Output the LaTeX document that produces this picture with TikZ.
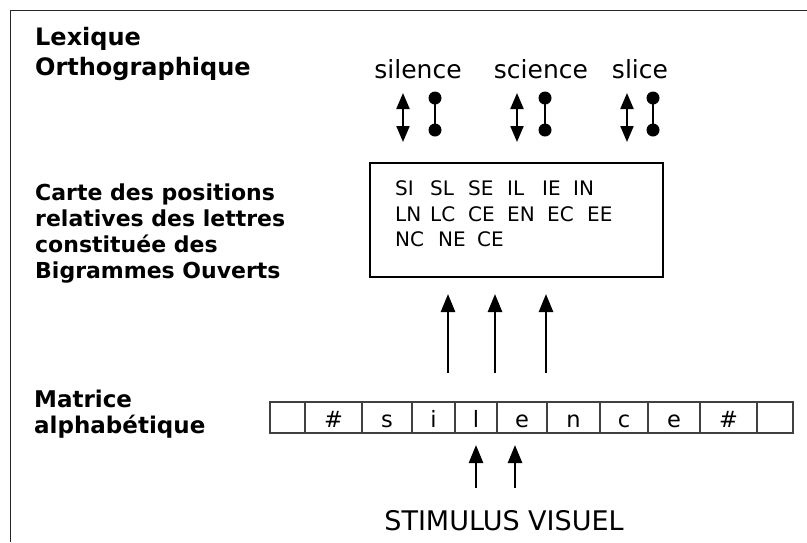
\documentclass[tikz,border=0pt]{standalone}
\usepackage{fontspec}
\setmainfont{DejaVu Sans}
\usetikzlibrary{arrows.meta}
\begin{document}
\begin{tikzpicture}[x=1pt,y=-1pt,
  lbl/.style={anchor=base west, inner sep=0pt, font=\bfseries\fontsize{#1}{#1}\selectfont},
  word/.style={anchor=base, inner sep=0pt, font=\fontsize{25}{25}\selectfont},
  bg/.style={anchor=base west, inner sep=0pt, font=\fontsize{20}{20}\selectfont},
  cell/.style={draw=black!75, line width=1.3pt, inner sep=0pt, minimum height=31pt,
    text height=19pt, text depth=0pt, font=\fontsize{22.5}{22.5}\selectfont},
  uparr/.style={line width=2.6pt, -{Triangle[length=18pt,width=14pt]}},
  dbl/.style={line width=2.2pt, {Triangle[length=16pt,width=13pt]}-{Triangle[length=16pt,width=13pt]}},
  dot/.style={circle, fill, inner sep=0pt, minimum size=13pt},
  mapbox/.style={draw, line width=2pt, inner sep=0pt, minimum width=293pt, minimum height=114pt}]
\useasboundingbox (0,0) rectangle (807,542);
\fill[white] (0,0) rectangle (807,542);
% frame
\draw[line width=1.5pt, black!85] (10.5,542) -- (10.5,10.5) -- (807,10.5);

% left labels
\node[lbl=24] (lex1) at (35,45) {Lexique};
\node[lbl=24] (lex2) at (35,75) {Orthographique};
\node[lbl=22] (car1) at (35,200) {Carte des positions};
\node[lbl=22] (car2) at (35,226) {relatives des lettres};
\node[lbl=22] (car3) at (35,252) {constituée des};
\node[lbl=22] (car4) at (35,278) {Bigrammes Ouverts};
\node[lbl=23] (mat1) at (34,407) {Matrice};
\node[lbl=23] (mat2) at (34,433) {alphabétique};

% words
\node[word] (w1) at (418,78) {silence};
\node[word] (w2) at (541,78) {science};
\node[word] (w3) at (640,78) {slice};

% double arrows and dumbbells
\foreach \ax/\dx [count=\i] in {403/435, 517/545, 627/653} {
  \coordinate (at\i) at (\ax,93);
  \coordinate (ab\i) at (\ax,142);
  \draw[dbl] (at\i) -- (ab\i);
  \node[dot] (dt\i) at (\dx,98) {};
  \node[dot] (db\i) at (\dx,130) {};
  \draw[line width=2.6pt] (dt\i.center) -- (db\i.center);
}

% bigram map
\node[mapbox] (map) at (516.5,220) {};
\foreach \x/\t [count=\i] in {395/SI, 430/SL, 468/SE, 507/IL, 542/IE, 573/IN}
  \node[bg] (ba\i) at (\x,195) {\t};
\foreach \x/\t [count=\i] in {395/LN, 430/LC, 468/CE, 507/EN, 547/EC, 587/EE}
  \node[bg] (bb\i) at (\x,221) {\t};
\foreach \x/\t [count=\i] in {395/NC, 438/NE, 477/CE}
  \node[bg] (bc\i) at (\x,246) {\t};

% arrows up to map
\foreach \x [count=\i] in {448, 495, 546} {
  \coordinate (ms\i) at (\x,373);
  \coordinate (me\i) at (\x,294);
  \draw[uparr] (ms\i) -- (me\i);
}

% letter matrix
\foreach \a/\b/\t [count=\i] in {270/305/{}, 305/362/\#, 362/412/s, 412/455/i, 455/497/l,
    497/547/e, 547/600/n, 600/648/c, 648/700/e, 700/757/\#, 757/793/{}} {
  \pgfmathsetmacro\cx{(\a+\b)/2}
  \pgfmathsetmacro\cw{\b-\a}
  \node[cell, minimum width=\cw pt] (c\i) at (\cx,417.5) {\t};
}

% stimulus
\node[anchor=base, inner sep=0pt, font=\fontsize{27}{27}\selectfont] (stim) at (504,530) {STIMULUS VISUEL};
\foreach \x [count=\i] in {476, 515} {
  \coordinate (ss\i) at (\x,488);
  \coordinate (se\i) at (\x,445);
  \draw[uparr] (ss\i) -- (se\i);
}
\end{tikzpicture}
\end{document}
